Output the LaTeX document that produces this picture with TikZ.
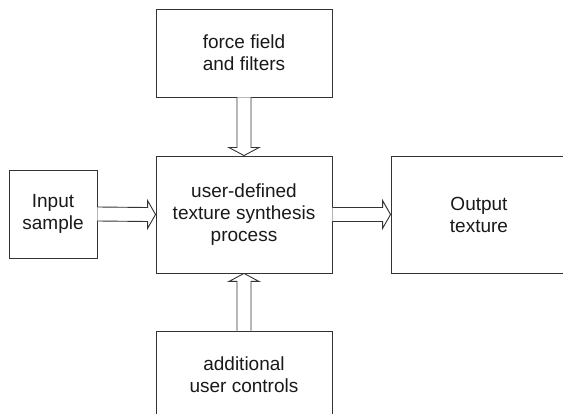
\documentclass[tikz,border=0pt]{standalone}
\usepackage{fontspec}
\setmainfont{Liberation Sans}
\begin{document}
\begin{tikzpicture}[x=1pt,y=-1pt,
  boxnode/.style={draw=black!80,line width=0.9pt,rectangle,inner sep=0pt,align=center,
    font=\fontsize{19}{22}\selectfont,text=black!90},
  barrow/.style={draw=black!80,line width=0.9pt,fill=white,line join=miter}]
\useasboundingbox (0,0) rectangle (563,414);
\node[boxnode,minimum width=176pt,minimum height=88pt] (f) at (244,53) {force field\\and filters};
\node[boxnode,minimum width=176pt,minimum height=117pt] (c) at (244,214.5) {user-defined\\texture synthesis\\process};
\node[boxnode,minimum width=88pt,minimum height=88pt] (in) at (53,214) {Input\\sample};
\node[boxnode,minimum width=176pt,minimum height=117pt] (out) at (479,214.5) {Output\\texture};
\node[boxnode,minimum width=176pt,minimum height=88pt] (b) at (244,375) {additional\\user controls};
% down arrow
\draw[barrow] ([xshift=-7pt]f.south) -- ([xshift=-7pt,yshift=8pt]c.north) -- ([xshift=-15pt,yshift=8pt]c.north) -- (c.north) -- ([xshift=15pt,yshift=8pt]c.north) -- ([xshift=7pt,yshift=8pt]c.north) -- ([xshift=7pt]f.south);
% up arrow
\draw[barrow] ([xshift=-7pt]b.north) -- ([xshift=-7pt,yshift=-8pt]c.south) -- ([xshift=-15pt,yshift=-8pt]c.south) -- (c.south) -- ([xshift=15pt,yshift=-8pt]c.south) -- ([xshift=7pt,yshift=-8pt]c.south) -- ([xshift=7pt]b.north);
% left arrow
\draw[barrow] ([yshift=7pt]in.east) -- ([xshift=-8pt,yshift=7pt]c.west) -- ([xshift=-8pt,yshift=14pt]c.west) -- (c.west) -- ([xshift=-8pt,yshift=-14pt]c.west) -- ([xshift=-8pt,yshift=-7pt]c.west) -- ([yshift=-7pt]in.east);
% right arrow
\draw[barrow] ([yshift=7pt]c.east) -- ([xshift=-8pt,yshift=7pt]out.west) -- ([xshift=-8pt,yshift=14pt]out.west) -- (out.west) -- ([xshift=-8pt,yshift=-14pt]out.west) -- ([xshift=-8pt,yshift=-7pt]out.west) -- ([yshift=-7pt]c.east);
\end{tikzpicture}
\end{document}
